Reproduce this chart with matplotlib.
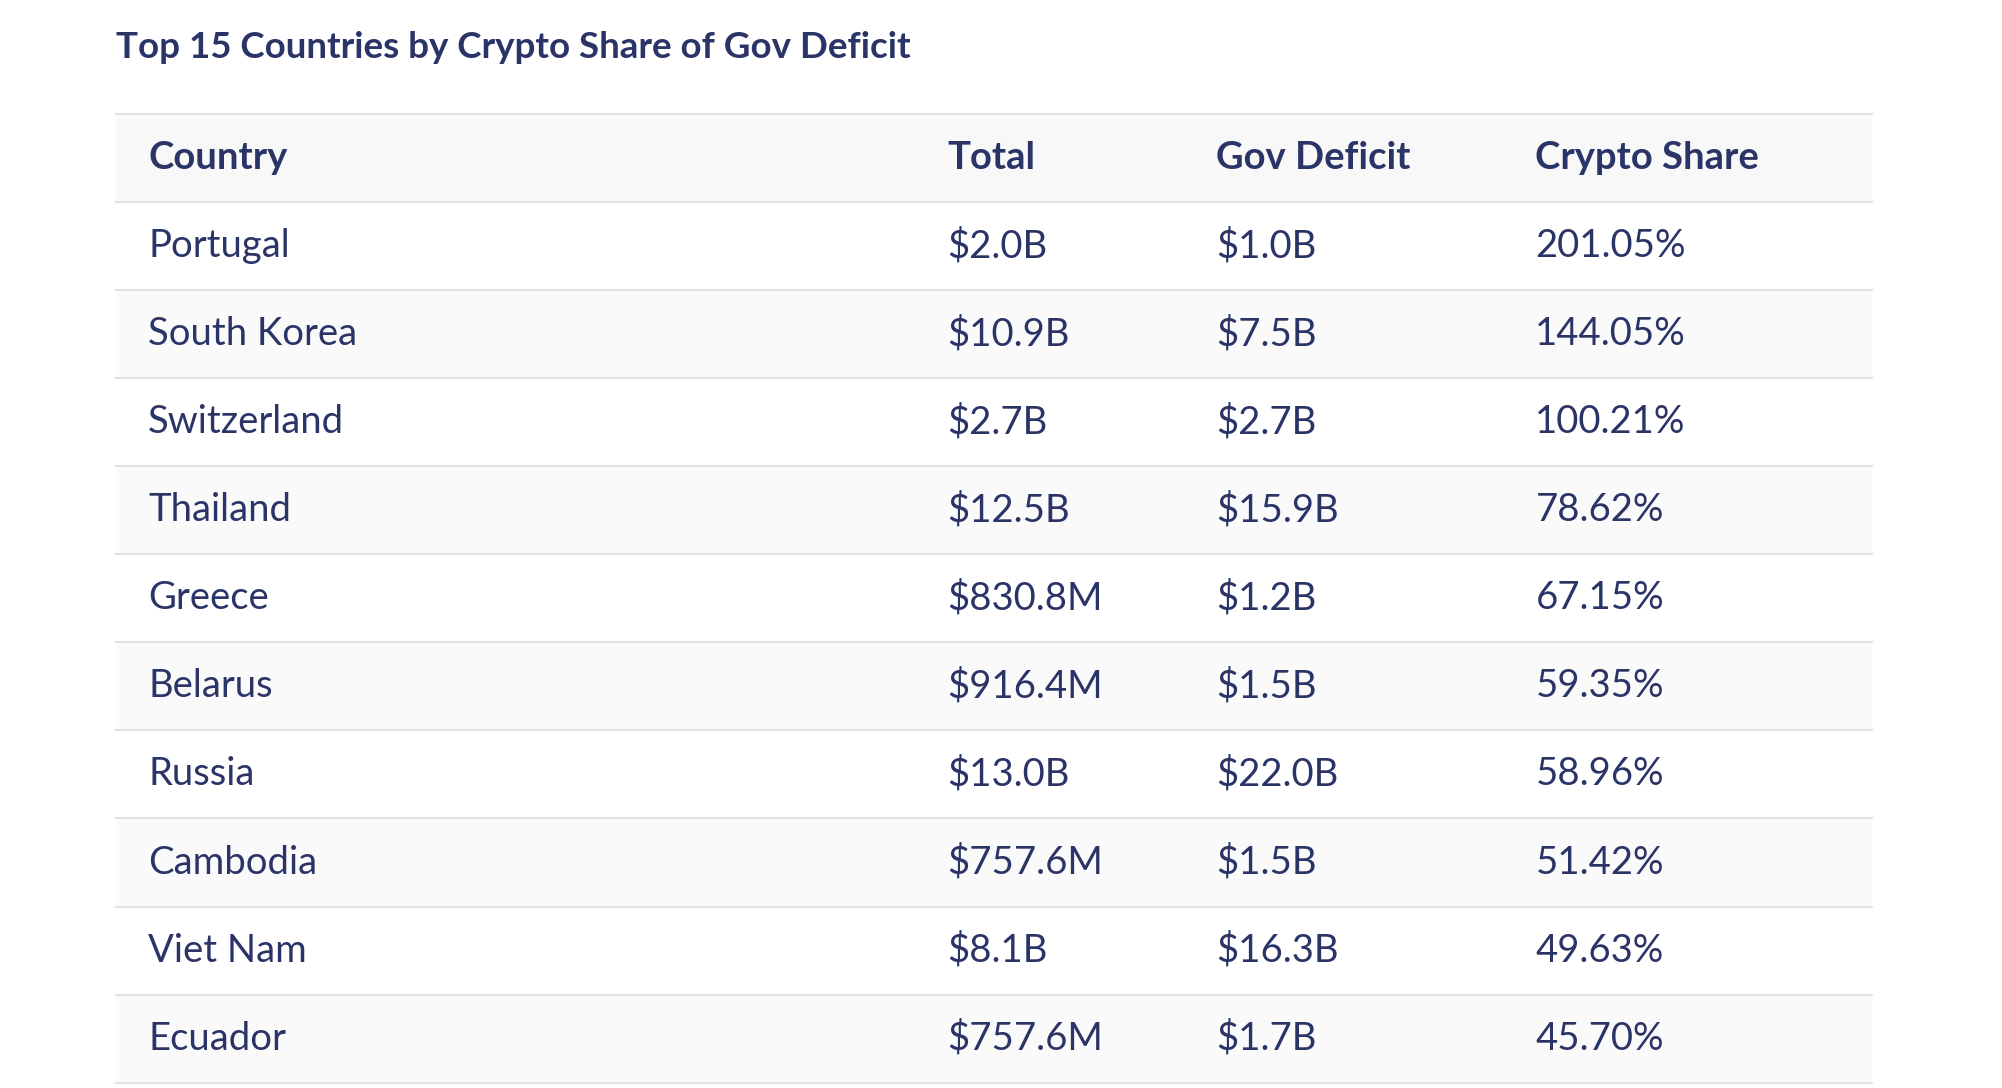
import matplotlib
matplotlib.use("Agg")
import matplotlib.pyplot as plt

title = "Top 15 Countries by Crypto Share of Gov Deficit"
headers = ["Country", "Total", "Gov Deficit", "Crypto Share"]
countries = ["Portugal", "South Korea", "Switzerland", "Thailand", "Greece", "Belarus",
             "Russia", "Cambodia", "Viet Nam", "Ecuador"]
totals = ["$2.0B", "$10.9B", "$2.7B", "$12.5B", "$830.8M", "$916.4M", "$13.0B",
          "$757.6M", "$8.1B", "$757.6M"]
deficits = ["$1.0B", "$7.5B", "$2.7B", "$15.9B", "$1.2B", "$1.5B", "$22.0B",
            "$1.5B", "$16.3B", "$1.7B"]
shares = [201.05, 144.05, 100.21, 78.62, 67.15, 59.35, 58.96, 51.42, 49.63, 45.70]

W, H = 1566, 851
fig = plt.figure(figsize=(20.02, 10.88), dpi=100)
ax = fig.add_axes([0, 0, 1, 1])
ax.set_xlim(0, W); ax.set_ylim(H, 0); ax.axis("off")
navy = "#2b3467"
font = "Lato"
fs = 27.5
ax.text(91, 37, title, fontsize=26.5, fontweight="bold", color=navy, family=font, va="center")

left, right = 91, 1464
top, rh = 89, 68.9
colx = [116, 741, 951, 1201]
ax.add_patch(plt.Rectangle((left, top), right-left, rh, color="#f8f8f8", lw=0))
for x, h in zip(colx, headers):
    ax.text(x, top + rh/2, h, fontsize=fs, fontweight="bold", color=navy, family=font, va="center")
ax.plot([left, right], [top, top], color="#e2e2e2", lw=1.5)
for i in range(len(countries)):
    y0 = top + rh*(i+1)
    if i % 2 == 1:
        ax.add_patch(plt.Rectangle((left, y0), right-left, rh, color="#fafafa", lw=0))
    vals = [countries[i], totals[i], deficits[i], f"{shares[i]:.2f}%"]
    for x, v in zip(colx, vals):
        ax.text(x, y0 + rh/2, v, fontsize=fs, color=navy, family=font, va="center")
    ax.plot([left, right], [y0, y0], color="#e2e2e2", lw=1.5)
ax.plot([left, right], [top + rh*11, top + rh*11], color="#e2e2e2", lw=1.5)
fig.savefig("out.png", dpi=100, facecolor="white")
